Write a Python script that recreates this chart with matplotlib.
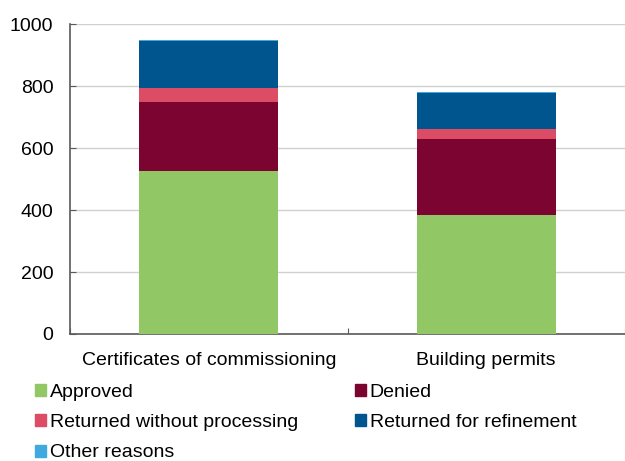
import numpy as np
import matplotlib.pyplot as plt
from matplotlib.patches import Patch

plt.rcParams['font.family'] = ['Liberation Sans', 'DejaVu Sans']

categories = ['Certificates of commissioning', 'Building permits']
series = ['Approved', 'Denied', 'Returned without processing',
          'Returned for refinement', 'Other reasons']
approved = [526, 384]
denied = [222, 245]
returned_wo = [47, 32]
returned_ref = [151, 118]
other = [2, 3]
values = [approved, denied, returned_wo, returned_ref, other]
colors = ['#92C765', '#7B0431', '#DC4C64', '#00558F', '#3FA9E0']

fig = plt.figure(figsize=(6.25, 4.61), dpi=100)
ax = fig.add_axes([0.112, 0.2755, 0.888, 0.672])

x = np.arange(len(categories))
bottom = np.zeros(len(categories))
for name, vals, c in zip(series, values, colors):
    ax.bar(x, vals, width=0.5, bottom=bottom, color=c, label=name, zorder=3)
    bottom += np.array(vals)

ax.set_xlim(-0.5, 1.5)
ax.set_ylim(0, 1000)
ax.set_yticks(range(0, 1001, 200))
ax.yaxis.grid(True, color='#d0d0d0', linewidth=1, zorder=0)
ax.tick_params(axis='y', length=4, direction='in', color='#595959',
               labelsize=14, pad=12)
ax.set_xticks([-0.5, 0.5, 1.5])
ax.set_xticklabels([])
ax.set_xticks(x, minor=True)
ax.set_xticklabels(categories, minor=True, fontsize=14)
ax.tick_params(axis='x', which='major', length=4, color='#595959', direction='in')
ax.tick_params(axis='x', which='minor', length=0, pad=13)
for s in ['top', 'right']:
    ax.spines[s].set_visible(False)
for s in ['left', 'bottom']:
    ax.spines[s].set_color('#595959')
    ax.spines[s].set_linewidth(1.2)

handles = [Patch(color=c) for c in colors]
order = [0, 2, 4, 1, 3]
fig.legend([handles[i] for i in order], [series[i] for i in order],
           ncol=2, loc='upper left', bbox_to_anchor=(0.056, 0.167),
           frameon=False, fontsize=14, handlelength=0.57, handleheight=0.57,
           handletextpad=0.2, columnspacing=2.9, labelspacing=0.68,
           borderaxespad=0, borderpad=0)

fig.savefig('out.png', dpi=100)
